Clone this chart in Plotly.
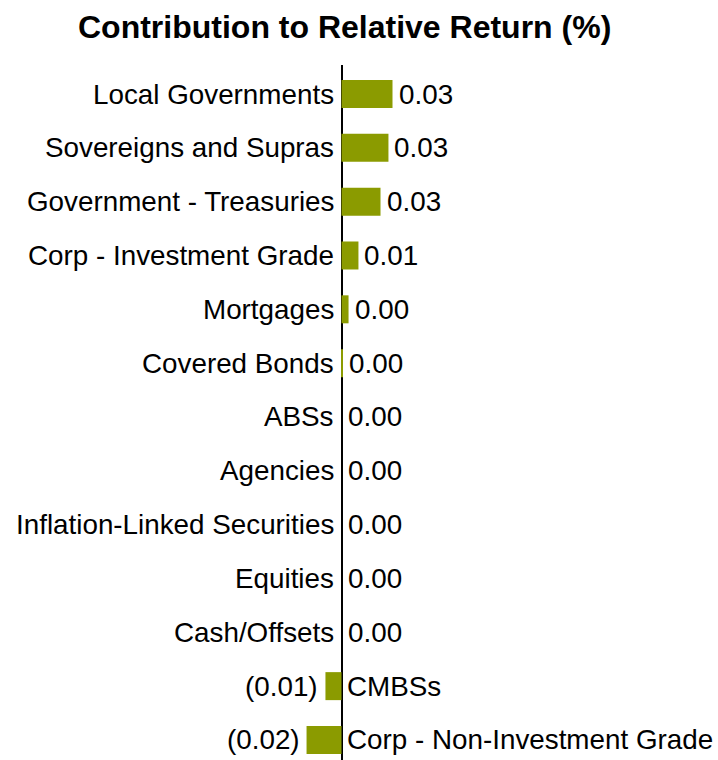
import plotly.graph_objects as go

categories = ["Local Governments", "Sovereigns and Supras", "Government - Treasuries",
              "Corp - Investment Grade", "Mortgages", "Covered Bonds", "ABSs", "Agencies",
              "Inflation-Linked Securities", "Equities", "Cash/Offsets", "CMBSs",
              "Corp - Non-Investment Grade"]
values = [0.034, 0.0313, 0.026, 0.0113, 0.0047, 0.0009, 0.0, 0.0, 0.0, 0.0, 0.0, -0.0107, -0.0233]
title_text = "Contribution to Relative Return (%)"

BAR = "#8B9B00"
FONT = "Liberation Sans, Arial, sans-serif"
FS = 27.8

def fmt(v):
    s = f"{abs(v):.2f}"
    return f"({s})" if v < 0 and s != "0.00" else s

W, H = 718, 760
axis_x = 341.5
row0 = 94
top = 65
title_y = 27
band = 53.83
pxu = 1500.0

fig = go.Figure(go.Bar(
    x=values, y=categories, orientation="h",
    marker=dict(color=BAR, line=dict(width=0)),
    width=0.52, hoverinfo="skip",
))

annotations = []
for c, v in zip(categories, values):
    neg = v < 0
    annotations.append(dict(
        x=0, y=c, xref="x", yref="y", text=c, showarrow=False,
        xanchor="left" if neg else "right", xshift=3 if neg else -6,
        font=dict(family=FONT, size=FS, color="black")))
    annotations.append(dict(
        x=v, y=c, xref="x", yref="y", text=fmt(v), showarrow=False,
        xanchor="right" if neg else "left", xshift=-5 if neg else 4,
        font=dict(family=FONT, size=FS, color="black")))

annotations.append(dict(
    x=344 / W, y=1 + (top - title_y) / (H - top), xref="paper", yref="paper",
    text=f"<b>{title_text}</b>",
    showarrow=False, xanchor="center", yanchor="middle",
    font=dict(family=FONT, size=32, color="black")))

n = len(categories)
bottom_ext = (H - (row0 + band * (n - 1))) / band
top_ext = (row0 - top) / band

fig.update_layout(
    width=W, height=H,
    margin=dict(l=0, r=0, t=top, b=0, pad=0),
    paper_bgcolor="white", plot_bgcolor="white",
    showlegend=False,
    xaxis=dict(range=[-axis_x / pxu, (W - axis_x) / pxu], showgrid=False,
               showticklabels=False, ticks="", zeroline=True, zerolinecolor="black",
               zerolinewidth=2, showline=False, fixedrange=True),
    yaxis=dict(range=[n - 1 + bottom_ext, -top_ext], showgrid=False,
               showticklabels=False, ticks="", zeroline=False, showline=False,
               categoryorder="array", categoryarray=categories, fixedrange=True),
    annotations=annotations,
)

fig.write_html(
    "out.html",
    config={"displayModeBar": False},
    post_script="document.body.style.margin='0';document.body.style.overflow='hidden';",
)
